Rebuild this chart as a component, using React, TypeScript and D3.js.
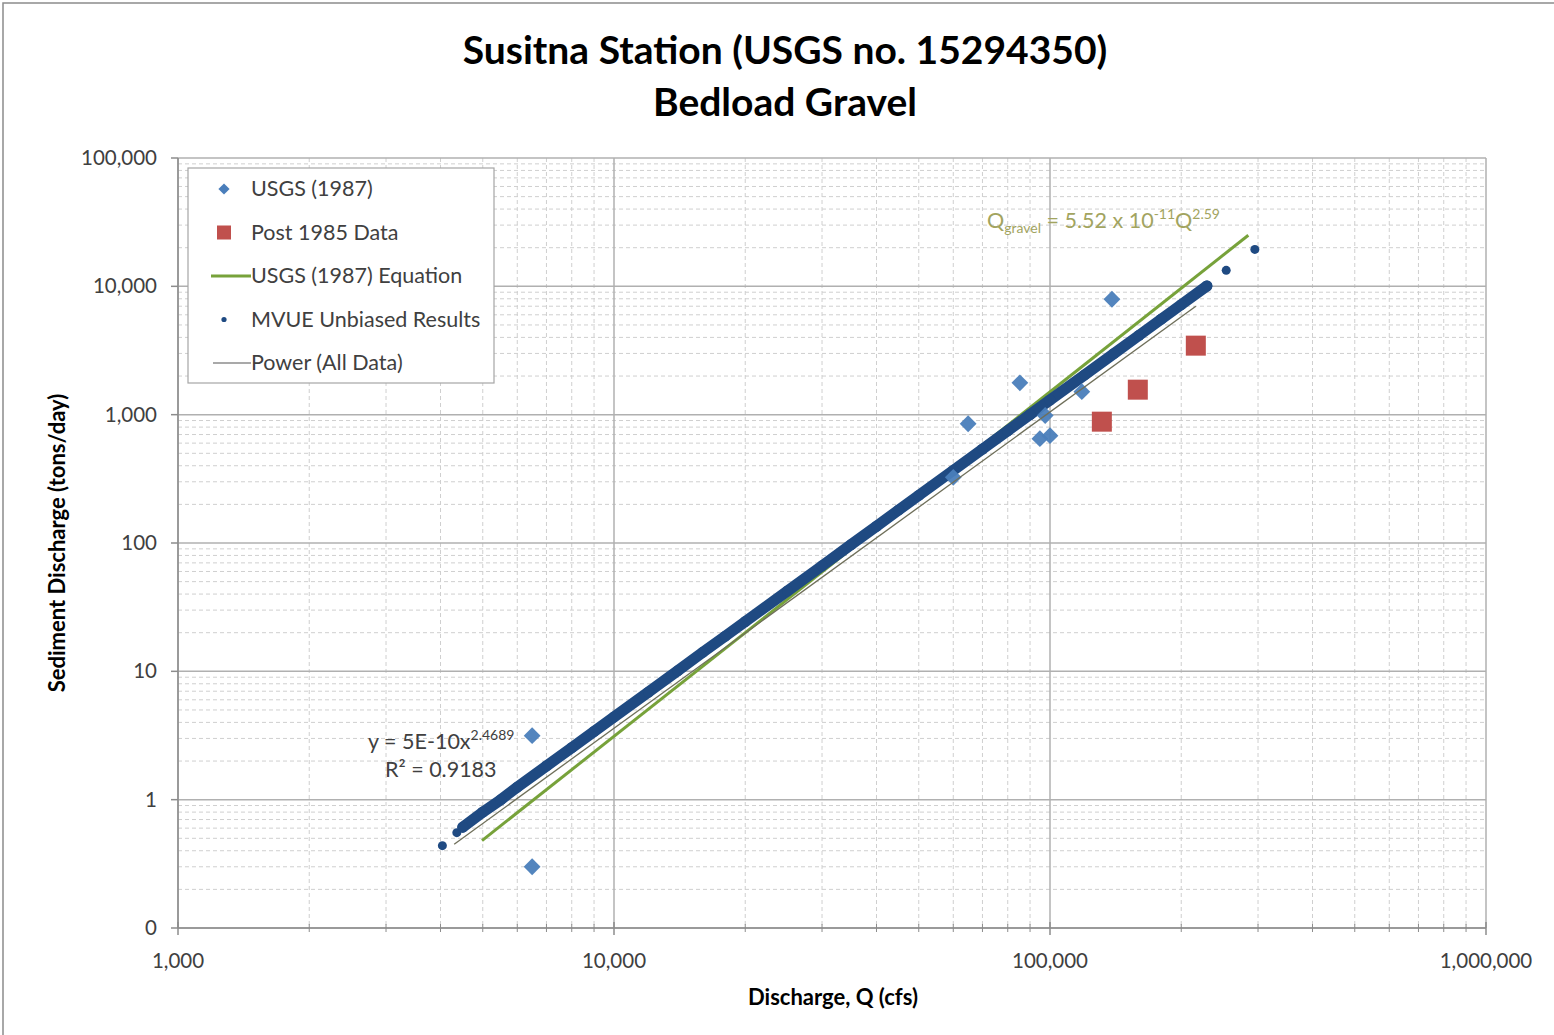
import { useEffect, useRef } from "react";
import * as d3 from "d3";

// USGS (1987) measurements: discharge (cfs), gravel bedload (tons/day)
const usgsQ = [6490, 6490, 60000, 64900, 85300, 97500, 94800, 100000, 118300, 138700];
const usgsLoad = [3.15, 0.3, 325, 850, 1770, 985, 650, 686, 1510, 7930];

// Post 1985 data
const postQ = [131500, 159000, 216000];
const postLoad = [882, 1566, 3450];

// MVUE unbiased results (dense band plus scattered ends)
const mvueQ = [4040, 4360, 4500, 5000, 5500, 6000, 7000, 8000, 9000, 10000, 12000, 14000, 16000, 18000,
  20000, 25000, 30000, 35000, 40000, 45000, 50000, 60000, 70000, 80000, 90000, 100000, 120000, 140000,
  160000, 180000, 200000, 229000, 253600, 295000];
const mvueLoad = [0.438, 0.553, 0.61, 0.8, 1.0, 1.25, 1.83, 2.54, 3.4, 4.41, 6.9, 10.1, 14.1, 18.8,
  24.4, 42.3, 66.4, 97.3, 135, 181, 235, 368, 539, 749, 1002, 1300, 2040, 2985,
  4150, 5555, 7200, 10060, 13330, 19400];
const bandStart = 2, bandEnd = 31;

// USGS (1987) equation line and power fit of all data (end points)
const eqQ = [4980, 285000];
const eqLoad = [0.48, 25000];
const powQ = [4300, 216000];
const powLoad = [0.45, 7000];

const xTicks = [1000, 10000, 100000, 1000000];
const xTickLabels = ["1,000", "10,000", "100,000", "1,000,000"];
const yTicks = [0.1, 1, 10, 100, 1000, 10000, 100000];
const yTickLabels = ["0", "1", "10", "100", "1,000", "10,000", "100,000"];

const legendItems = ["USGS (1987)", "Post 1985 Data", "USGS (1987) Equation", "MVUE Unbiased Results", "Power (All Data)"];

const W = 1554, H = 1035;
const FONT = "Lato, Calibri, 'Open Sans', sans-serif";
const BLUE = "#4a7ebb", RED = "#c0504d", GREEN = "#77a23a", NAVY = "#1f4a82";

export default function App() {
  const ref = useRef<SVGSVGElement>(null);

  useEffect(() => {
    document.body.style.margin = "0";
    const svg = d3.select(ref.current);
    svg.selectAll("*").remove();

    const x = d3.scaleLog().domain([1000, 1e6]).range([178, 1486]);
    const y = d3.scaleLog().domain([0.1, 1e5]).range([928, 158]);
    const [x0, x1] = x.range();
    const [y0, y1] = y.range();

    svg.append("rect").attr("width", W).attr("height", H).attr("fill", "#fff");
    svg.append("rect").attr("x", 3).attr("y", 3).attr("width", W + 20).attr("height", H + 20)
      .attr("fill", "none").attr("stroke", "#8c8c8c").attr("stroke-width", 1.5);

    // minor grid
    const minorX: number[] = [];
    for (let d = 1000; d < 1e6; d *= 10) for (let k = 2; k <= 9; k++) minorX.push(d * k);
    const minorY: number[] = [];
    for (let d = 0.1; d < 1e5; d *= 10) for (let k = 2; k <= 9; k++) minorY.push(d * k);

    const grid = svg.append("g");
    grid.selectAll(".mx").data(minorX).enter().append("line")
      .attr("x1", d => x(d)).attr("x2", d => x(d)).attr("y1", y1).attr("y2", y0)
      .attr("stroke", "#cfcfcf").attr("stroke-width", 1).attr("stroke-dasharray", "4,3");
    grid.selectAll(".my").data(minorY).enter().append("line")
      .attr("x1", x0).attr("x2", x1).attr("y1", d => y(d)).attr("y2", d => y(d))
      .attr("stroke", "#cfcfcf").attr("stroke-width", 1).attr("stroke-dasharray", "4,3");
    grid.selectAll(".Mx").data(xTicks).enter().append("line")
      .attr("x1", d => x(d)).attr("x2", d => x(d)).attr("y1", y1).attr("y2", y0)
      .attr("stroke", "#b0b0b0").attr("stroke-width", 1.5);
    grid.selectAll(".My").data(yTicks).enter().append("line")
      .attr("x1", x0).attr("x2", x1).attr("y1", d => y(d)).attr("y2", d => y(d))
      .attr("stroke", "#b0b0b0").attr("stroke-width", 1.5);

    // axes
    svg.append("line").attr("x1", x0).attr("x2", x1).attr("y1", y0).attr("y2", y0)
      .attr("stroke", "#8c8c8c").attr("stroke-width", 1.5);
    svg.append("line").attr("x1", x0).attr("x2", x0).attr("y1", y1).attr("y2", y0)
      .attr("stroke", "#8c8c8c").attr("stroke-width", 1.5);
    svg.selectAll(".xt").data(minorX).enter().append("line")
      .attr("x1", d => x(d)).attr("x2", d => x(d)).attr("y1", y0 - 4).attr("y2", y0 + 4)
      .attr("stroke", "#8c8c8c");
    svg.selectAll(".xT").data(xTicks).enter().append("line")
      .attr("x1", d => x(d)).attr("x2", d => x(d)).attr("y1", y0 - 6).attr("y2", y0 + 7)
      .attr("stroke", "#8c8c8c").attr("stroke-width", 1.5);
    svg.selectAll(".yT").data(yTicks).enter().append("line")
      .attr("x1", x0 - 7).attr("x2", x0).attr("y1", d => y(d)).attr("y2", d => y(d))
      .attr("stroke", "#8c8c8c").attr("stroke-width", 1.5);

    svg.selectAll(".xl").data(xTicks).enter().append("text")
      .attr("x", d => x(d)).attr("y", y0 + 40).attr("text-anchor", "middle")
      .style("font-family", FONT).style("font-size", "20.5px").style("fill", "#404040")
      .text((d, i) => xTickLabels[i]);
    svg.selectAll(".yl").data(yTicks).enter().append("text")
      .attr("x", x0 - 21).attr("y", d => y(d) + 7).attr("text-anchor", "end")
      .style("font-family", FONT).style("font-size", "20.5px").style("fill", "#404040")
      .text((d, i) => yTickLabels[i]);

    // titles
    const title = svg.append("text").attr("text-anchor", "middle")
      .style("font-family", FONT).style("font-weight", "bold").style("font-size", "39px").style("fill", "#000");
    title.append("tspan").attr("x", 785).attr("y", 64).text("Susitna Station (USGS no. 15294350)");
    title.append("tspan").attr("x", 785).attr("y", 116).text("Bedload Gravel");

    svg.append("text").attr("x", 833).attr("y", 1005).attr("text-anchor", "middle")
      .style("font-family", FONT).style("font-weight", "bold").style("font-size", "22px").style("fill", "#000")
      .text("Discharge, Q (cfs)");
    svg.append("text").attr("transform", `translate(65,${(y0 + y1) / 2}) rotate(-90)`).attr("text-anchor", "middle")
      .style("font-family", FONT).style("font-weight", "bold").style("font-size", "22px").style("fill", "#000")
      .text("Sediment Discharge (tons/day)");

    // lines
    const line = d3.line<[number, number]>().x(d => x(d[0])).y(d => y(d[1]));
    svg.append("path").datum(eqQ.map((q, i) => [q, eqLoad[i]] as [number, number]))
      .attr("d", line).attr("fill", "none").attr("stroke", GREEN).attr("stroke-width", 3);

    const band = mvueQ.slice(bandStart, bandEnd + 1).map((q, i) => [q, mvueLoad[i + bandStart]] as [number, number]);
    svg.append("path").datum(band).attr("d", line).attr("fill", "none")
      .attr("stroke", NAVY).attr("stroke-width", 11).attr("stroke-linecap", "round");
    svg.selectAll(".mv").data(mvueQ).enter().append("circle")
      .attr("cx", d => x(d)).attr("cy", (d, i) => y(mvueLoad[i]))
      .attr("r", (d, i) => (i >= bandStart && i <= bandEnd ? 5.5 : 4.5)).attr("fill", NAVY);

    const diamond = d3.symbol().type(d3.symbolDiamond2).size(180);
    svg.selectAll(".us").data(usgsQ).enter().append("path")
      .attr("d", diamond).attr("transform", (d, i) => `translate(${x(d)},${y(usgsLoad[i])})`)
      .attr("fill", BLUE).attr("opacity", 0.95);

    svg.append("path").datum(powQ.map((q, i) => [q, powLoad[i]] as [number, number]))
      .attr("d", line).attr("fill", "none").attr("stroke", "#6f6f5a").attr("stroke-width", 1.3);

    svg.selectAll(".pd").data(postQ).enter().append("rect")
      .attr("x", d => x(d) - 10).attr("y", (d, i) => y(postLoad[i]) - 10)
      .attr("width", 20).attr("height", 20).attr("fill", RED);

    // equation labels
    const eq = svg.append("text").attr("x", 987).attr("y", 228)
      .style("font-family", FONT).style("font-size", "21.5px").style("fill", "#a2a460");
    eq.append("tspan").text("Q");
    eq.append("tspan").attr("dy", 5).style("font-size", "14px").text("gravel");
    eq.append("tspan").attr("dy", -5).text(" = 5.52 x 10");
    eq.append("tspan").attr("dy", -9).style("font-size", "14px").text("-11");
    eq.append("tspan").attr("dy", 9).text("Q");
    eq.append("tspan").attr("dy", -9).style("font-size", "14px").text("2.59");

    const pw = svg.append("text").attr("x", 368).attr("y", 749)
      .style("font-family", FONT).style("font-size", "21.5px").style("fill", "#404040");
    pw.append("tspan").text("y = 5E-10x");
    pw.append("tspan").attr("dy", -9).style("font-size", "14px").text("2.4689");
    svg.append("text").attr("x", 385).attr("y", 777)
      .style("font-family", FONT).style("font-size", "21.5px").style("fill", "#404040")
      .text("R² = 0.9183");

    // legend
    const lg = svg.append("g");
    lg.append("rect").attr("x", 188).attr("y", 168).attr("width", 306).attr("height", 215)
      .attr("fill", "#fff").attr("stroke", "#a6a6a6").attr("stroke-width", 1.2);
    const ly = (i: number) => 189 + i * 43.5;
    lg.append("path").attr("d", d3.symbol().type(d3.symbolDiamond2).size(80))
      .attr("transform", `translate(224,${ly(0)})`).attr("fill", BLUE);
    lg.append("rect").attr("x", 217).attr("y", ly(1) - 7).attr("width", 14).attr("height", 14).attr("fill", RED);
    lg.append("line").attr("x1", 211).attr("x2", 251).attr("y1", ly(2)).attr("y2", ly(2))
      .attr("stroke", GREEN).attr("stroke-width", 3);
    lg.append("circle").attr("cx", 224).attr("cy", ly(3)).attr("r", 2.6).attr("fill", NAVY);
    lg.append("line").attr("x1", 213).attr("x2", 251).attr("y1", ly(4)).attr("y2", ly(4))
      .attr("stroke", "#8c8c8c").attr("stroke-width", 1.5);
    lg.selectAll(".lt").data(legendItems).enter().append("text")
      .attr("x", 251).attr("y", (d, i) => ly(i) + 7)
      .style("font-family", FONT).style("font-size", "21.5px").style("fill", "#404040")
      .text(d => d);
  }, []);

  return <svg ref={ref} width={W} height={H} style={{ display: "block" }} />;
}
